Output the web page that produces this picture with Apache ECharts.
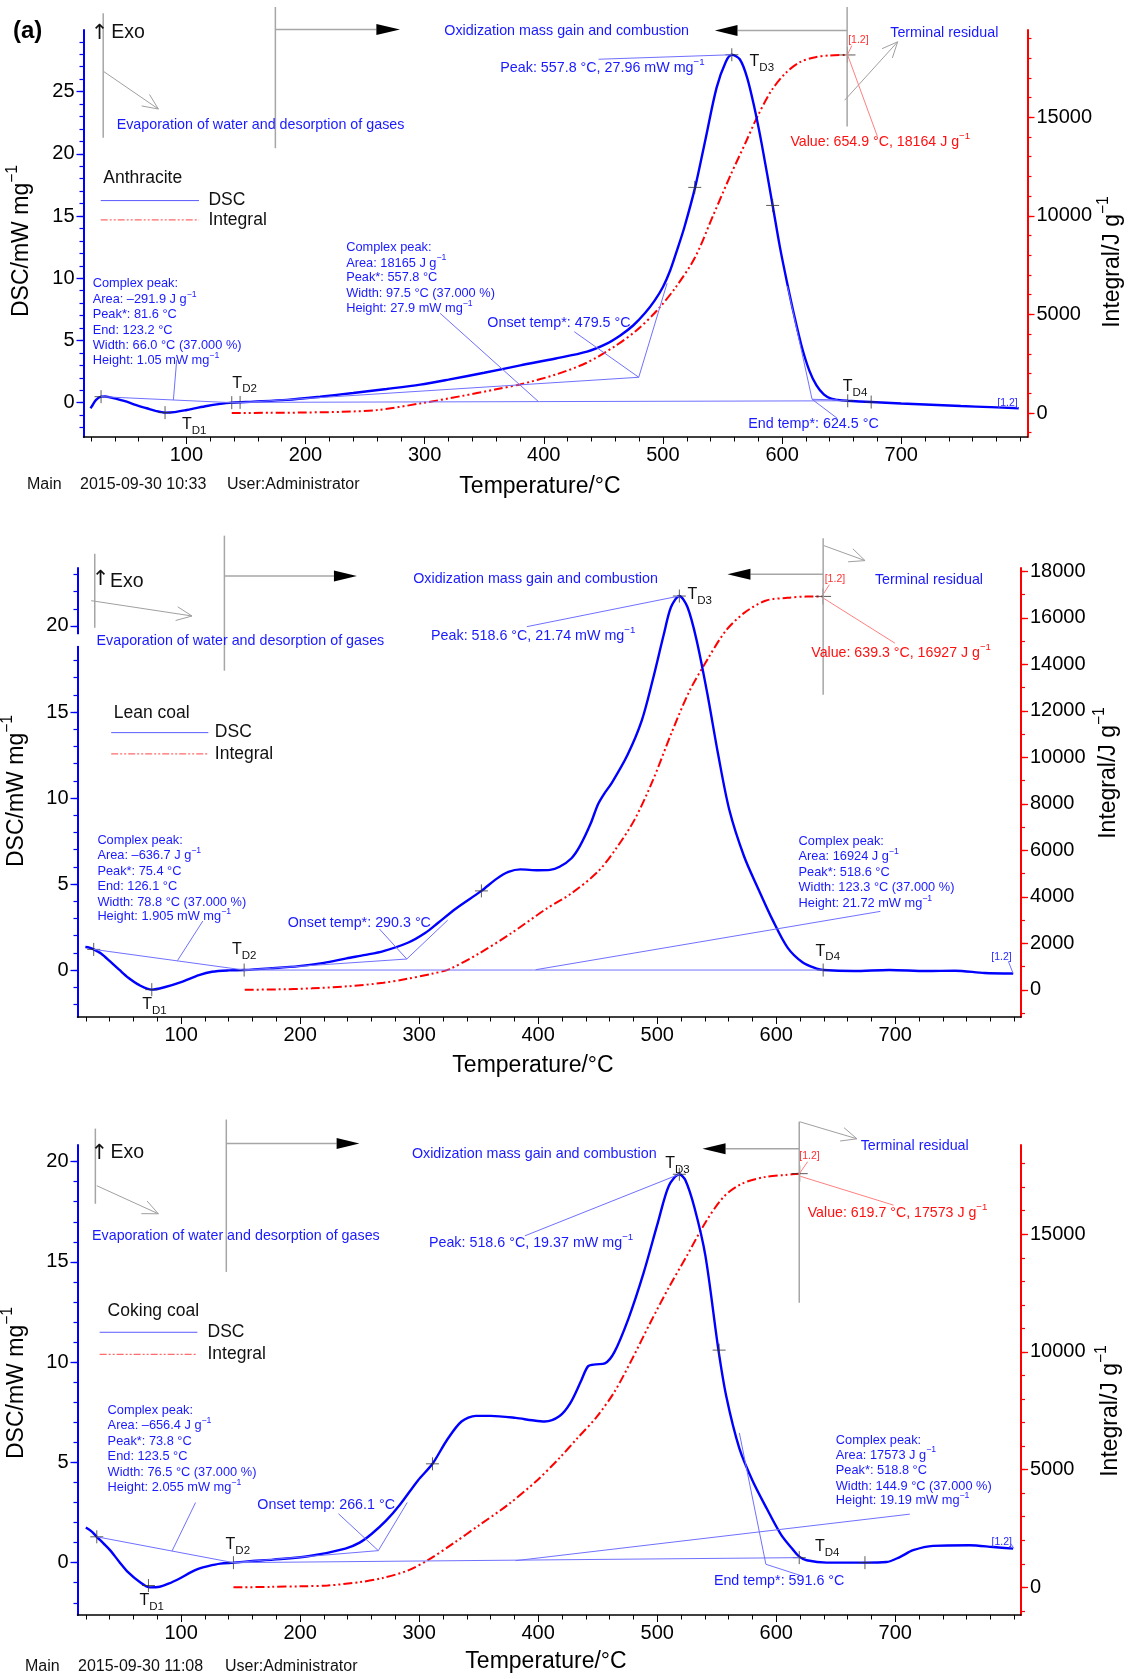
<!DOCTYPE html>
<html><head><meta charset="utf-8">
<script src="https://cdn.jsdelivr.net/npm/echarts@6/dist/echarts.min.js"></script>
<style>html,body{margin:0;padding:0;background:#fff}#c{width:1132px;height:1679px}</style>
</head><body><div id="c"></div>
<script>
// ---------------- DATA ----------------
const xTicks = [100, 200, 300, 400, 500, 600, 700];
const dscTicksA = [0, 5, 10, 15, 20, 25];
const intTicksA = [0, 5000, 10000, 15000];
const dscTicksL = [0, 5, 10, 15, 20];
const intTicksL = [0, 2000, 4000, 6000, 8000, 10000, 12000, 14000, 16000, 18000];
const dscTicksC = [0, 5, 10, 15, 20];
const intTicksC = [0, 5000, 10000, 15000];

const dscAnthracite = [[19.5,-0.45],[20.5,-0.32],[24,0.2],[28.4,0.48],[32,0.5],[35.9,0.43],[42,0.28],[49.9,0.08],[58,-0.2],[66.7,-0.45],[74,-0.66],[82.1,-0.8],[90,-0.76],[100.3,-0.59],[108,-0.44],[117.1,-0.27],[127,-0.12],[138.1,0],[156.3,0.08],[184.3,0.22],[212.3,0.48],[240,0.78],[268,1.1],[296.3,1.45],[320,1.85],[350,2.4],[380.3,3.0],[410,3.55],[436.3,4.1],[452,4.7],[464.2,5.4],[475,6.2],[485,7.2],[493,8.2],[500,9.3],[506,10.6],[512,12.3],[518,14.1],[527,17.3],[536,21.3],[545,25.3],[552.8,27.4],[557.8,27.96],[564.5,27.6],[570.6,26.15],[576.8,23.7],[582.9,20.8],[592.1,15.85],[598.2,12.5],[604.4,9.56],[610.5,6.88],[616.6,4.47],[622.8,2.6],[628.9,1.39],[635,0.67],[641.2,0.32],[646.7,0.22],[655.1,0.15],[674.8,0.05],[700,-0.07],[720,-0.15],[750,-0.27],[775,-0.36],[798.7,-0.45]];
const intAnthracite = [[138.1,0],[170,8],[200,25],[230,60],[260,150],[296,480],[330,850],[360,1200],[380,1450],[410,1950],[436,2550],[460,3400],[478,4200],[495,5200],[511,6400],[527,7900],[542,10000],[557,12100],[570,13800],[579,15000],[591,16350],[603,17250],[615,17800],[628,18050],[640,18140],[654.9,18164]];
const charAnthracite = [[28.4,0.48],[82.1,-0.8],[138.1,0],[145.1,0.02],[526.7,17.3],[592.1,15.85],[557.8,27.96],[655.1,0.15],[674.8,0.05]];
const endAnthracite = [[654.9,18164]];

const dscLean = [[19.6,1.34],[23,1.3],[26.6,1.2],[33,0.95],[40.4,0.5],[48,0.02],[55.7,-0.45],[65,-0.88],[75.4,-1.14],[86,-1.0],[100,-0.7],[115,-0.3],[126,-0.1],[140,-0.02],[153,0],[175,0.1],[199,0.23],[220,0.42],[239,0.68],[255,0.88],[270,1.1],[291,1.6],[305,2.15],[316,2.75],[331,3.58],[352.3,4.6],[365,5.3],[375,5.7],[385,5.85],[400,5.8],[410,5.82],[418,6.0],[428,6.5],[435,7.2],[444,8.5],[450,9.6],[455,10.2],[462,10.9],[475,12.5],[487,14.5],[496,16.8],[505.5,19.5],[511.6,21.1],[518.6,21.74],[525.4,21.1],[533,19.2],[542,16.1],[551,12.6],[560.6,9.3],[573,6.6],[585,4.7],[597,2.9],[609.5,1.3],[622,0.45],[634,0.08],[639.4,0],[665,-0.06],[695,0],[726,-0.06],[750,-0.04],[775,-0.17],[799,-0.2]];
const intLean = [[153.5,0],[180,15],[210,60],[240,150],[270,300],[290,470],[310,680],[325,880],[350,1550],[377,2420],[407,3490],[428,4150],[450.5,5100],[465.7,6097],[481,7322],[496.3,9007],[511.6,11000],[526.9,12837],[542.2,14216],[557.5,15441],[572.8,16207],[591,16743],[609.5,16870],[625,16920],[639.3,16927]];
const charLean = [[26.6,1.2],[75.4,-1.14],[153,0],[352.3,4.6],[518.6,21.74],[639.4,0]];
const endLean = [[639.3,16927]];

const dscCoking = [[20,1.75],[25,1.55],[29.2,1.29],[35,0.95],[40.7,0.6],[48,0.05],[55.9,-0.5],[65,-0.95],[73.8,-1.23],[82,-1.2],[89.4,-1.05],[100,-0.75],[107.6,-0.5],[115,-0.3],[122.8,-0.17],[133,-0.05],[144,0],[160,0.08],[177.5,0.15],[208,0.33],[238,0.7],[250,1.0],[260,1.43],[272,2.08],[284,2.9],[299,4.1],[311.2,4.93],[323.4,6.12],[335.6,7.04],[347.7,7.32],[360,7.32],[381,7.22],[395,7.1],[405.5,7.04],[417.7,7.3],[427,7.96],[436,9.06],[442,9.8],[448.5,9.89],[456,9.94],[464,10.5],[476,12.2],[488.3,14.4],[500.6,16.97],[509.8,18.8],[518.6,19.37],[523.6,19.08],[531.3,17.7],[540.5,15.3],[551.2,10.7],[558,8.3],[569,5.7],[580,4.1],[592,2.7],[604,1.4],[614,0.65],[619.3,0.3],[625.5,0.12],[642.3,0.0],[674.5,0],[692.6,0.03],[703.8,0.28],[715,0.62],[731.8,0.84],[762.4,0.87],[782.2,0.78],[799,0.7]];
const intCoking = [[144,0],[175,20],[200,45],[223,78],[250,220],[268.7,391],[290,705],[308,1174],[329,1879],[351,2662],[375,3523],[399,4540],[418,5500],[433,6341],[448.5,7202],[464,8298],[479,9707],[494.5,11273],[510,12760],[525,14091],[540.5,15500],[556,16596],[571,17144],[590,17426],[608,17520],[619.7,17573]];
const charCoking = [[29.2,1.29],[72.6,-1.14],[144,0],[311.2,4.93],[518.6,19.37],[552,10.6],[619.3,0.25],[674.5,0]];
const endCoking = [[619.7,17573]];

// ---------------- LAYOUT / ANNOTATIONS ----------------
const FONT = '"Liberation Sans", Arial, Helvetica, sans-serif';
const xMinor = []; for (let v = 20; v <= 800; v += 20) xMinor.push(v);
function steps(a, b, s) { const r = []; for (let v = a; v <= b + 1e-9; v += s) r.push(v); return r; }

const PANELS = [
  { grid: {left: 83.5, top: 30, width: 944, height: 407}, x: [13.66, 806], yL: [-2.76, 29.95], yR: [-1218, 19430],
    yLT: dscTicksA, yLM: steps(-2, 29, 1), yRT: intTicksA, yRM: steps(-1000, 19000, 1000),
    dsc: dscAnthracite, integ: intAnthracite, chars: charAnthracite, end: endAnthracite },
  { grid: {left: 77.5, top: 568, width: 943.5, height: 449}, x: [13, 805.6], yL: [-2.73, 23.37], yR: [-1172, 18150],
    yLT: dscTicksL, yLM: steps(-2, 23, 1), yRT: intTicksL, yRM: steps(-1000, 18000, 1000),
    dsc: dscLean, integ: intLean, chars: charLean, end: endLean },
  { grid: {left: 77.5, top: 1145, width: 943.5, height: 470}, x: [13, 805.6], yL: [-2.61, 20.83], yR: [-1174, 18790],
    yLT: dscTicksC, yLM: steps(-2, 20, 1), yRT: intTicksC, yRM: steps(-1000, 18000, 1000),
    dsc: dscCoking, integ: intCoking, chars: charCoking, end: endCoking }
];

const ANN = [
 { gray: [[30.2,31.3,30.2,21.3],[174.7,31.8,174.7,20.45],[654.6,31.8,654.6,22.2]],
   open: [[30.8,26.6,76.5,23.6],[652.5,24.3,697,29.0]],
   filled: [[174.7,259.5,279.3,30.0],[654.6,562.6,543.6,29.9]],
   blue: [[28.4,0.48,138.1,0],[91.9,3.43,89.1,0.22],[138.1,0.02,655.1,0.15],[145,0,479.7,2.04],[479.7,2.04,503.5,9.6],[425.6,5.7,479.7,2.04],[313,7.18,395.6,0.08],[446,27.6,557.8,27.96],[604.5,9.36,625.2,0.27],[625.2,0.27,646.7,0.22],[625.2,0.27,646.2,-1.25],[796,-0.3,798.7,-0.45]],
   red: [[658.6,28.7,654.9,27.97],[654.9,27.97,680,21.4]],
   texts: [
    ['↑',19.8,29.7,'arrow'],['Exo',37,29.7,'exo'],
    ['Evaporation of water and desorption of gases',41.5,22.3,'ann'],
    ['Oxidization mass gain and combustion',316.5,29.9,'ann'],
    ['Terminal residual',690.8,29.7,'ann'],
    ['[1.2]',655.5,29.1,'tagR'],
    ['Value: 654.9 °C, 18164 J g{s|−1}',607,20.95,'val'],
    ['Peak: 557.8 °C, 27.96 mW mg{s|−1}',363.5,26.9,'ann'],
    ['{n|T}{d|D3}',572.7,27.4,'td'],['{n|T}{d|D1}',96.3,-1.8,'td'],['{n|T}{d|D2}',138.6,1.56,'td'],['{n|T}{d|D4}',651,1.26,'td'],
    ['Complex peak:',21.4,9.54,'blk'],['Area: –291.9 J g{s|−1}',21.4,8.31,'blk'],['Peak*: 81.6 °C',21.4,7.11,'blk'],['End: 123.2 °C',21.4,5.84,'blk'],['Width: 66.0 °C (37.000 %)',21.4,4.58,'blk'],['Height: 1.05 mW mg{s|−1}',21.4,3.38,'blk'],
    ['Complex peak:',234.1,12.5,'blk'],['Area: 18165 J g{s|−1}',234.1,11.22,'blk'],['Peak*: 557.8 °C',234.1,10.04,'blk'],['Width: 97.5 °C (37.000 %)',234.1,8.75,'blk'],['Height: 27.9 mW mg{s|−1}',234.1,7.55,'blk'],
    ['Onset temp*: 479.5 °C',352.6,6.37,'ann'],
    ['End temp*: 624.5 °C',571.6,-1.71,'ann'],
    ['[1.2]',780.6,-0.05,'tagB']],
   legend: {name:'Anthracite', tx:30.3, ty:18.04, x1:28.1, x2:110.6, yd:16.24, yi:14.69, lx:118.5},
   gap: null },
 { gray: [[27.5,24.2,27.5,19.9],[136.4,25.25,136.4,17.4],[639.4,25.1,639.4,16.0]],
   open: [[24.5,21.47,109.2,20.58],[640,24.67,674.6,23.8]],
   filled: [[136.4,228.4,247.7,22.9],[639.4,578.3,559,23.0]],
   blue: [[26.6,1.2,153,0],[118.3,2.85,97,0.55],[153,0,639.4,0],[153,0,289.6,0.64],[289.6,0.64,324,2.9],[266.7,2.38,289.6,0.64],[398,0.02,687.5,3.41],[390.5,19.96,518.6,21.74],[795,0.5,799,-0.2]],
   red: [[644.6,22.4,640,21.9],[640,21.6,699.7,19.0]],
   texts: [
    ['↑',25,22.7,'arrow'],['Exo',40.4,22.6,'exo'],
    ['Evaporation of water and desorption of gases',29,19.1,'ann'],
    ['Oxidization mass gain and combustion',295,22.75,'ann'],
    ['Terminal residual',682.9,22.65,'ann'],
    ['[1.2]',640.7,22.7,'tagR'],
    ['Value: 639.3 °C, 16927 J g{s|−1}',629.4,18.43,'val'],
    ['Peak: 518.6 °C, 21.74 mW mg{s|−1}',310,19.4,'ann'],
    ['{n|T}{d|D3}',525.4,21.8,'td'],['{n|T}{d|D1}',67.3,-2.0,'td'],['{n|T}{d|D2}',142.8,1.2,'td'],['{n|T}{d|D4}',633,1.1,'td'],
    ['Complex peak:',29.7,7.55,'blk'],['Area: –636.7 J g{s|−1}',29.7,6.64,'blk'],['Peak*: 75.4 °C',29.7,5.75,'blk'],['End: 126.1 °C',29.7,4.88,'blk'],['Width: 78.8 °C (37.000 %)',29.7,3.95,'blk'],['Height: 1.905 mW mg{s|−1}',29.7,3.10,'blk'],
    ['Complex peak:',618.7,7.45,'blk'],['Area: 16924 J g{s|−1}',618.7,6.58,'blk'],['Peak*: 518.6 °C',618.7,5.65,'blk'],['Width: 123.3 °C (37.000 %)',618.7,4.78,'blk'],['Height: 21.72 mW mg{s|−1}',618.7,3.85,'blk'],
    ['Onset temp*: 290.3 °C',189.6,2.75,'ann'],
    ['[1.2]',780.7,0.78,'tagB']],
   legend: {name:'Lean coal', tx:43.4, ty:14.95, x1:41.3, x2:122.9, yd:13.8, yi:12.57, lx:128.4},
   gap: [19.52, 18.84] },
 { gray: [[28,21.65,28,17.9],[138,22.1,138,14.5],[619.3,21.99,619.3,12.96]],
   open: [[29.2,18.8,80.9,17.4],[619.6,21.99,667.8,21.14]],
   filled: [[138,230.7,249.8,20.9],[619.3,557.4,538,20.64]],
   blue: [[29.2,1.29,144,0],[112.2,3.0,92.4,0.58],[144,0,619.3,0.25],[144,0,265.7,0.6],[265.7,0.6,290,3.0],[232.2,2.44,265.7,0.6],[381,0.1,712.2,2.42],[388.8,16.3,518.6,19.37],[569,6.47,591.3,-0.08],[591.3,-0.08,619.9,-0.63],[797,0.95,799.5,0.72]],
   red: [[626.4,20.0,619.3,19.39],[620.2,19.27,698.5,17.83]],
   texts: [
    ['↑',24,20.4,'arrow'],['Exo',40.7,20.46,'exo'],
    ['Evaporation of water and desorption of gases',25.2,16.3,'ann'],
    ['Oxidization mass gain and combustion',293.9,20.37,'ann'],
    ['Terminal residual',670.9,20.79,'ann'],
    ['[1.2]',619.3,20.28,'tagR'],
    ['Value: 619.7 °C, 17573 J g{s|−1}',626.4,17.43,'val'],
    ['Peak: 518.6 °C, 19.37 mW mg{s|−1}',308.2,15.96,'ann'],
    ['{n|T}{d|D3}',506.7,19.9,'td'],['{n|T}{d|D1}',65,-1.9,'td'],['{n|T}{d|D2}',137.4,0.9,'td'],['{n|T}{d|D4}',632.5,0.78,'td'],
    ['Complex peak:',38.3,7.59,'blk'],['Area: –656.4 J g{s|−1}',38.3,6.82,'blk'],['Peak*: 73.8 °C',38.3,6.03,'blk'],['End: 123.5 °C',38.3,5.28,'blk'],['Width: 76.5 °C (37.000 %)',38.3,4.50,'blk'],['Height: 2.055 mW mg{s|−1}',38.3,3.73,'blk'],
    ['Complex peak:',650,6.11,'blk'],['Area: 17573 J g{s|−1}',650,5.36,'blk'],['Peak*: 518.8 °C',650,4.61,'blk'],['Width: 144.9 °C (37.000 %)',650,3.81,'blk'],['Height: 19.19 mW mg{s|−1}',650,3.08,'blk'],
    ['Onset temp: 266.1 °C',164.1,2.87,'ann'],
    ['End temp*: 591.6 °C',547.6,-0.93,'ann'],
    ['[1.2]',780.8,1.03,'tagB']],
   legend: {name:'Coking coal', tx:38.3, ty:12.55, x1:31.6, x2:113.7, yd:11.49, yi:10.39, lx:122.2},
   gap: null }
];

const TITLES = [
  {left:[21.5,241], bottom:[540,487], right:[1113,262]},
  {left:[16.5,791], bottom:[533,1066], right:[1109,773]},
  {left:[16.5,1383], bottom:[546,1662], right:[1111,1411]}
];

const TS = {
  ann: {size:14.3, color:'#1a1aff'}, blk: {size:12.8, color:'#1a1aff'}, val: {size:14.2, color:'#ff1010'},
  tagR: {size:10.5, color:'#ff3030'}, tagB: {size:10.5, color:'#2a2aff'}, td: {size:16, color:'#111'},
  exo: {size:19.5, color:'#111'}, arrow: {size:21, color:'#111', family:'"DejaVu Sans", sans-serif'}, leg: {size:17.5, color:'#111'}
};

// ---------------- CHART ----------------
const chart = echarts.init(document.getElementById('c'), null, {renderer: 'canvas'});
const grid = [], xAxis = [], yAxis = [], series = [];
const plusPath = 'path://M0,6L12,6M6,0L6,12';
const plain = v => String(v);

PANELS.forEach((p, i) => {
  grid.push(Object.assign({containLabel: false, outerBoundsMode: 'none'}, p.grid));
  const lab = {fontSize: 20, color: '#000', fontFamily: FONT, formatter: plain};
  xAxis.push({gridIndex: i, type: 'value', min: p.x[0], max: p.x[1], position: 'bottom',
    axisLine: {show: true, onZero: false, lineStyle: {color: '#000', width: 1.5}},
    axisTick: {show: true, length: 7, customValues: xTicks, lineStyle: {color: '#000', width: 1}},
    axisLabel: Object.assign({customValues: xTicks, margin: 8}, lab), splitLine: {show: false}});
  xAxis.push({gridIndex: i, type: 'value', min: p.x[0], max: p.x[1], position: 'bottom',
    axisLine: {show: false, onZero: false}, axisTick: {show: true, length: 4.5, customValues: xMinor, lineStyle: {color: '#000', width: 1}},
    axisLabel: {show: false}, splitLine: {show: false}});
  yAxis.push({gridIndex: i, type: 'value', min: p.yL[0], max: p.yL[1], position: 'left',
    axisLine: {show: true, onZero: false, lineStyle: {color: '#0000ff', width: 2}},
    axisTick: {show: true, length: 7, customValues: p.yLT, lineStyle: {color: '#0000ff', width: 1.3}},
    axisLabel: Object.assign({customValues: p.yLT, margin: 9}, lab), splitLine: {show: false}});
  yAxis.push({gridIndex: i, type: 'value', min: p.yL[0], max: p.yL[1], position: 'left',
    axisLine: {show: false, onZero: false}, axisTick: {show: true, length: 4, customValues: p.yLM, lineStyle: {color: '#0000ff', width: 1.2}},
    axisLabel: {show: false}, splitLine: {show: false}});
  yAxis.push({gridIndex: i, type: 'value', min: p.yR[0], max: p.yR[1], position: 'right',
    axisLine: {show: true, onZero: false, lineStyle: {color: '#ff0000', width: 2}},
    axisTick: {show: true, length: 7, customValues: p.yRT, lineStyle: {color: '#ff0000', width: 1.3}},
    axisLabel: Object.assign({customValues: p.yRT, margin: 9}, lab), splitLine: {show: false}});
  yAxis.push({gridIndex: i, type: 'value', min: p.yR[0], max: p.yR[1], position: 'right',
    axisLine: {show: false, onZero: false}, axisTick: {show: true, length: 4, customValues: p.yRM, lineStyle: {color: '#ff0000', width: 1.2}},
    axisLabel: {show: false}, splitLine: {show: false}});
  series.push({type: 'line', name: 'DSC', xAxisIndex: 2*i, yAxisIndex: 4*i, data: p.dsc, symbol: 'none', smooth: 0.3,
    lineStyle: {color: '#0000ff', width: 2.4}, z: 5, silent: true});
  series.push({type: 'line', name: 'Integral', xAxisIndex: 2*i, yAxisIndex: 4*i+2, data: p.integ, symbol: 'none', smooth: 0.3,
    lineStyle: {color: '#ff0000', width: 2, type: [9, 3, 2, 3, 2, 3]}, z: 4, silent: true});
  series.push({type: 'scatter', xAxisIndex: 2*i, yAxisIndex: 4*i, data: p.chars, symbol: plusPath, symbolSize: 13,
    itemStyle: {color: 'rgba(0,0,0,0)', borderColor: '#333', borderWidth: 1}, z: 6, silent: true});
  series.push({type: 'scatter', xAxisIndex: 2*i, yAxisIndex: 4*i+2, data: p.end, symbol: plusPath, symbolSize: 16,
    itemStyle: {color: 'rgba(0,0,0,0)', borderColor: '#333', borderWidth: 1}, z: 6, silent: true});
});

chart.setOption({animation: false, backgroundColor: '#fff', grid, xAxis, yAxis, series});

// ---------------- GRAPHICS (annotations, titles) ----------------
function richFor(size, color, fam) {
  return {
    s: {fontSize: size*0.68, lineHeight: size*1.0, verticalAlign: 'top', fill: color, fontFamily: fam},
    d: {fontSize: size*0.72, lineHeight: size*0.8, verticalAlign: 'bottom', fill: color, fontFamily: fam},
    n: {fontSize: size, lineHeight: size*1.5, verticalAlign: 'middle', fill: color, fontFamily: fam}
  };
}
function textEl(x, y, str, size, color, o) {
  o = o || {};
  const fam = o.family || FONT;
  return {type: 'text', x: x, y: y, rotation: o.rot || 0, silent: true, z: 100,
    style: {text: str, fill: color, fontSize: size, fontFamily: fam, fontWeight: o.bold ? 'bold' : 'normal',
      align: o.align || 'left', verticalAlign: 'middle', lineHeight: size*1.5, rich: richFor(size, color, fam)}};
}
function lineEl(a, b, color, w, dash) {
  return {type: 'line', silent: true, z: 50, shape: {x1: a[0], y1: a[1], x2: b[0], y2: b[1]},
    style: {stroke: color, lineWidth: w, lineDash: dash || null}};
}

const G = [];
ANN.forEach((a, i) => {
  const P = (x, y) => chart.convertToPixel({xAxisIndex: 2*i, yAxisIndex: 4*i}, [x, y]);
  a.gray.forEach(s => G.push(lineEl(P(s[0], s[1]), P(s[2], s[3]), '#a6a6a6', 1.5)));
  a.filled.forEach(f => {
    const from = P(f[0], f[3]), base = P(f[1], f[3]), tip = P(f[2], f[3]);
    G.push(lineEl(from, base, '#a6a6a6', 1.5));
    G.push({type: 'polygon', silent: true, z: 51, shape: {points: [[tip[0], tip[1]], [base[0], base[1]-5.5], [base[0], base[1]+5.5]]}, style: {fill: '#000'}});
  });
  a.open.forEach(s => {
    const p1 = P(s[0], s[1]), p2 = P(s[2], s[3]);
    G.push(lineEl(p1, p2, '#a0a0a0', 1));
    const th = Math.atan2(p2[1]-p1[1], p2[0]-p1[0]), L = 17, ph = 0.42;
    [th+ph, th-ph].forEach(t => G.push(lineEl(p2, [p2[0]-L*Math.cos(t), p2[1]-L*Math.sin(t)], '#a0a0a0', 1)));
  });
  a.blue.forEach(s => G.push(lineEl(P(s[0], s[1]), P(s[2], s[3]), '#7070ff', 1)));
  a.red.forEach(s => G.push(lineEl(P(s[0], s[1]), P(s[2], s[3]), '#ff8080', 1)));
  a.texts.forEach(t => { const st = TS[t[3]]; const q = P(t[1], t[2]); G.push(textEl(q[0], q[1], t[0], st.size, st.color, {family: st.family})); });
  const lg = a.legend;
  let q = P(lg.tx, lg.ty); G.push(textEl(q[0], q[1], lg.name, TS.leg.size, TS.leg.color));
  G.push(lineEl(P(lg.x1, lg.yd), P(lg.x2, lg.yd), '#5a5aff', 1));
  G.push(lineEl(P(lg.x1, lg.yi), P(lg.x2, lg.yi), '#ff6a6a', 1.3, [7, 2, 2, 2, 2, 2]));
  q = P(lg.lx, lg.yd); G.push(textEl(q[0], q[1], 'DSC', TS.leg.size, TS.leg.color));
  q = P(lg.lx, lg.yi); G.push(textEl(q[0], q[1], 'Integral', TS.leg.size, TS.leg.color));
  if (a.gap) {
    const g1 = P(PANELS[i].x[0], a.gap[0]), g2 = P(PANELS[i].x[0], a.gap[1]);
    G.push({type: 'rect', silent: true, z: 120, shape: {x: g1[0]-9, y: g1[1], width: 12, height: g2[1]-g1[1]}, style: {fill: '#fff'}});
  }
  const T = TITLES[i];
  G.push(textEl(T.left[0], T.left[1], 'DSC/mW mg{s|−1}', 23, '#000', {rot: Math.PI/2, align: 'center'}));
  G.push(textEl(T.right[0], T.right[1], 'Integral/J g{s|−1}', 23, '#000', {rot: Math.PI/2, align: 'center'}));
  G.push(textEl(T.bottom[0], T.bottom[1], 'Temperature/°C', 23, '#000', {align: 'center'}));
});
G.push(textEl(13, 31, '(a)', 24, '#000', {bold: true}));
[[484.5, 27, 80, 227, '2015-09-30 10:33'], [1667, 25, 78, 225, '2015-09-30 11:08']].forEach(m => {
  G.push(textEl(m[1], m[0], 'Main', 16, '#111'));
  G.push(textEl(m[2], m[0], m[4], 16, '#111'));
  G.push(textEl(m[3], m[0], 'User:Administrator', 16, '#111'));
});
chart.setOption({graphic: {elements: G}});
</script></body></html>
